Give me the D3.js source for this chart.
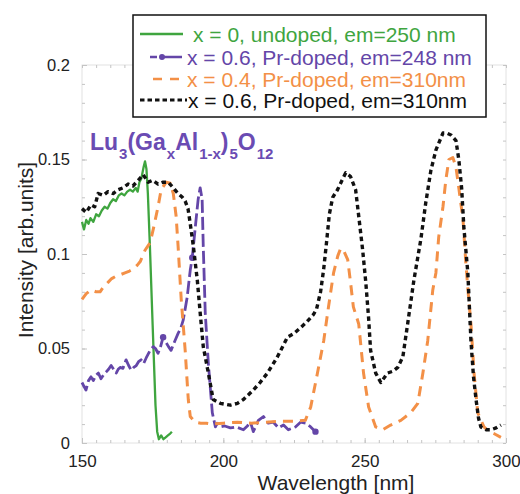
<!DOCTYPE html>
<html><head><meta charset="utf-8">
<script src="https://cdn.jsdelivr.net/npm/d3@7"></script>
<style>
html,body{margin:0;padding:0;background:#fff;}
svg{display:block;font-family:"Liberation Sans",Arial,Helvetica,sans-serif;}
</style></head>
<body>
<svg id="chart" width="520" height="494"></svg>
<script>
// ---------- data ----------
const greenWl = [150,150.7,151.5,152.3,153,154,155,156,157,158,159,160,161,162,163,164,165,166,167,168,169,169.7,170.3,171,171.8,172.3,172.8,173.3,174,175,176,176.6,177.2,178,178.8,179.6,180.4,181.2,181.8];
const greenI  = [0.117,0.113,0.118,0.116,0.119,0.117,0.121,0.120,0.123,0.125,0.124,0.127,0.129,0.128,0.131,0.132,0.131,0.133,0.134,0.133,0.135,0.133,0.138,0.140,0.146,0.149,0.145,0.132,0.105,0.062,0.020,0.006,0.002,0.004,0.002,0.003,0.004,0.005,0.006];

const purpleWl = [150,150.7,151.4,152.3,153.2,154,155,155.8,156.7,157.6,158.5,159.4,160.3,161.2,162.1,162.8,163.5,164.5,165.6,166.5,167.4,168.3,169.2,170,170.9,171.8,172.7,173.4,174.1,175.2,176,176.9,177.8,178.7,179.3,179.8,180.6,181.5,182.3,183,184,185,185.8,187.2,188.3,189,190,191.1,191.8,192.5,192.9,193.6,194.7,196.1,197.2,197.8,199,200.5,202.5,204.5,207.1,208.5,209.6,210.6,211.5,212.4,214.2,215.9,217.7,219.5,221.3,223,225.5,227.3,229.1,230.9,232.6];
const purpleI  = [0.032,0.030,0.028,0.033,0.035,0.033,0.036,0.037,0.034,0.036,0.0375,0.039,0.041,0.039,0.037,0.039,0.040,0.0395,0.044,0.041,0.0385,0.040,0.041,0.043,0.044,0.042,0.045,0.047,0.049,0.051,0.050,0.0475,0.051,0.056,0.055,0.053,0.051,0.049,0.052,0.0545,0.058,0.061,0.065,0.077,0.0915,0.098,0.113,0.129,0.135,0.129,0.104,0.069,0.042,0.016,0.0085,0.0105,0.0085,0.009,0.008,0.0085,0.007,0.009,0.011,0.006,0.009,0.012,0.014,0.0105,0.011,0.008,0.0095,0.007,0.0085,0.011,0.0105,0.0085,0.006];
const purpleMarkerWl = [178.7, 189, 232.6];

const orangeWl = [150,151.5,153.2,155,156.4,157.8,159.2,160.5,161.7,163.5,165.2,166.8,168.1,169.5,170.6,172.3,174.1,175.2,176.9,178,179.8,181.2,182.3,183.3,184,185.1,186.5,187.6,188.3,190,192,194,196,200,205,210,215,220,225,229,230.9,233.3,235.5,237.2,239,240.5,241.5,242.5,244,245,246,247.9,249.6,251.4,253.9,256.4,259.2,262.8,266.3,268.8,270.6,272.3,274.1,275.2,276.2,277.7,278.7,279.8,281.2,282.3,283.3,284.8,285.8,286.6,287.6,288.7,290,292.2,294,295.7,298.2];
const orangeI  = [0.076,0.079,0.081,0.080,0.080,0.083,0.085,0.087,0.088,0.089,0.090,0.091,0.092,0.094,0.096,0.102,0.106,0.113,0.125,0.134,0.138,0.1375,0.132,0.120,0.104,0.076,0.049,0.023,0.014,0.011,0.0105,0.0105,0.010,0.0105,0.011,0.0105,0.011,0.0115,0.0115,0.012,0.019,0.037,0.054,0.072,0.090,0.099,0.103,0.102,0.097,0.085,0.072,0.063,0.037,0.019,0.0085,0.007,0.0095,0.012,0.016,0.021,0.037,0.054,0.081,0.090,0.109,0.125,0.139,0.150,0.151,0.146,0.135,0.118,0.095,0.080,0.063,0.037,0.016,0.0085,0.006,0.005,0.003];

const blackWl = [150,151.5,153.2,154.5,155.7,157.5,159.2,161,162.8,164.5,166.3,168,169.9,171.6,173.4,175,176.9,178.7,180.5,182.3,184,185.5,186.5,187.5,188.3,189.4,190.8,191.8,192.9,194.7,196.4,198.9,202.5,205,207.1,210.6,213,215.6,219.1,222.7,225,227.3,229.5,231.9,233,234.4,235.5,236.5,237.5,238.7,240.4,242,243.3,245,246.8,247.9,249.3,250.4,251.4,252.1,253.9,255.7,258.1,260,261.7,263.5,265.2,267.4,269.9,271.6,273.4,275.2,277.7,279,280.5,282.3,283.3,284.3,285.1,286.5,287.6,288.5,289.4,290.3,291.1,293,294.7,296.5,298.2];
const blackI  = [0.124,0.122,0.126,0.125,0.132,0.131,0.133,0.132,0.134,0.135,0.137,0.136,0.139,0.142,0.138,0.139,0.137,0.138,0.138,0.135,0.132,0.130,0.128,0.124,0.116,0.104,0.086,0.069,0.051,0.037,0.023,0.021,0.020,0.021,0.023,0.028,0.032,0.037,0.0455,0.056,0.058,0.061,0.064,0.068,0.071,0.080,0.092,0.106,0.121,0.130,0.134,0.139,0.143,0.141,0.134,0.120,0.102,0.085,0.066,0.049,0.037,0.032,0.037,0.038,0.040,0.0455,0.063,0.086,0.108,0.127,0.144,0.155,0.164,0.164,0.163,0.160,0.150,0.135,0.114,0.090,0.054,0.035,0.023,0.013,0.0085,0.007,0.007,0.008,0.0095];

const legendLabels = ["x = 0, undoped, em=250 nm","x = 0.6, Pr-doped, em=248 nm","x = 0.4, Pr-doped, em=310nm","x = 0.6, Pr-doped, em=310nm"];
const xTicks = [150,200,250,300];
const yTicks = [0,0.05,0.1,0.15,0.2];
const yTickLabels = ["0","0.05","0.1","0.15","0.2"];
const xTitle = "Wavelength [nm]";
const yTitle = "Intensity [arb.units]";

// ---------- drawing ----------
const svg = d3.select("#chart");
const L=82, R=506, T=65, B=443;
const x = d3.scaleLinear().domain([150,300]).range([L,R]);
const y = d3.scaleLinear().domain([0,0.2]).range([B,T]);

const frameCol = "#e2e2e2";
svg.append("rect").attr("x",L).attr("y",T).attr("width",R-L).attr("height",B-T)
  .attr("fill","none").attr("stroke",frameCol).attr("stroke-width",1);

const minorX = d3.range(150,300.1,5), minorY = d3.range(0,0.2001,0.01);
function styleAx(g){ g.select(".domain").remove(); g.selectAll("line").attr("stroke","#c4c4c4"); }
svg.append("g").attr("transform",`translate(0,${B})`).call(d3.axisBottom(x).tickValues(minorX).tickSize(-3).tickFormat("")).call(styleAx);
svg.append("g").attr("transform",`translate(0,${T})`).call(d3.axisTop(x).tickValues(minorX).tickSize(-3).tickFormat("")).call(styleAx);
svg.append("g").attr("transform",`translate(${L},0)`).call(d3.axisLeft(y).tickValues(minorY).tickSize(-3).tickFormat("")).call(styleAx);
svg.append("g").attr("transform",`translate(${R},0)`).call(d3.axisRight(y).tickValues(minorY).tickSize(-3).tickFormat("")).call(styleAx);

const gx = svg.append("g").attr("transform",`translate(0,${B})`)
  .call(d3.axisBottom(x).tickValues(xTicks).tickSize(-5).tickFormat(d3.format("d")));
gx.select(".domain").remove();
gx.selectAll("line").attr("stroke","#c4c4c4");
gx.selectAll("text").attr("y",24).attr("dy",0).attr("font-size",17).attr("fill","#222")
  .attr("font-family","Liberation Sans, Arial, sans-serif");

const gy = svg.append("g").attr("transform",`translate(${L},0)`)
  .call(d3.axisLeft(y).tickValues(yTicks).tickSize(-5).tickPadding(12).tickFormat((d,i)=>yTickLabels[i]));
gy.select(".domain").remove();
gy.selectAll("line").attr("stroke","#c4c4c4");
gy.selectAll("text").attr("font-size",16.5).attr("fill","#222")
  .attr("font-family","Liberation Sans, Arial, sans-serif");

svg.append("text").attr("x",336).attr("y",490).attr("text-anchor","middle")
  .attr("font-size",21).attr("fill","#222").text(xTitle);
svg.append("text").attr("transform","translate(33,250) rotate(-90)").attr("text-anchor","middle")
  .attr("font-size",21).attr("fill","#222").text(yTitle);

const colors = {green:"#3fa53f", purple:"#6446a8", orange:"#f39047", black:"#111"};
const line = d3.line().x(d=>x(d[0])).y(d=>y(d[1]));
const zip = (a,b)=>a.map((v,i)=>[v,b[i]]);

svg.append("path").datum(zip(greenWl,greenI)).attr("d",line)
  .attr("fill","none").attr("stroke",colors.green).attr("stroke-width",2.3).attr("stroke-linejoin","round");

svg.append("path").datum(zip(purpleWl,purpleI)).attr("d",line)
  .attr("fill","none").attr("stroke",colors.purple).attr("stroke-width",2.8)
  .attr("stroke-dasharray","13,4").attr("stroke-linejoin","round");
svg.append("g").selectAll("circle").data(zip(purpleWl,purpleI).filter(d=>purpleMarkerWl.includes(d[0])))
  .join("circle").attr("cx",d=>x(d[0])).attr("cy",d=>y(d[1])).attr("r",3.2).attr("fill",colors.purple);

svg.append("path").datum(zip(orangeWl,orangeI)).attr("d",line)
  .attr("fill","none").attr("stroke",colors.orange).attr("stroke-width",3)
  .attr("stroke-dasharray","10,7").attr("stroke-linejoin","round");

svg.append("path").datum(zip(blackWl,blackI)).attr("d",line)
  .attr("fill","none").attr("stroke",colors.black).attr("stroke-width",3.4)
  .attr("stroke-dasharray","4.5,3.5").attr("stroke-linejoin","round");

const comp = svg.append("text").attr("x",90).attr("y",150).attr("fill","#6a4bb3")
  .attr("font-weight","bold").attr("font-size",23);
const parts = [["Lu",0],["3",1],["(Ga",0],["x",1],["Al",0],["1-x",1],[")",0],["5",1],["O",0],["12",1]];
let prevSub = false;
parts.forEach(([t,s])=>{
  const ts = comp.append("tspan").text(t);
  if(s){ ts.attr("font-size",15).attr("dy", prevSub?0:9).attr("dx",1); }
  else { ts.attr("dy", prevSub?-9:0); }
  prevSub = !!s;
});

const lg = svg.append("g");
lg.append("rect").attr("x",133).attr("y",15).attr("width",353).attr("height",102)
  .attr("fill","#fff").attr("stroke","#111").attr("stroke-width",1.5);
const rowsY = [34,57,79,100];
const legCols = [colors.green, colors.purple, colors.orange, colors.black];
lg.append("line").attr("x1",140).attr("x2",183).attr("y1",rowsY[0]).attr("y2",rowsY[0]).attr("stroke",legCols[0]).attr("stroke-width",2.5);
lg.append("line").attr("x1",150).attr("x2",182).attr("y1",rowsY[1]).attr("y2",rowsY[1]).attr("stroke",legCols[1]).attr("stroke-width",2.6).attr("stroke-dasharray","7,3,22");
lg.append("circle").attr("cx",162).attr("cy",rowsY[1]).attr("r",3).attr("fill",legCols[1]);
lg.append("line").attr("x1",153).attr("x2",182).attr("y1",rowsY[2]).attr("y2",rowsY[2]).attr("stroke",legCols[2]).attr("stroke-width",2.6).attr("stroke-dasharray","9,8");
lg.append("line").attr("x1",140).attr("x2",187).attr("y1",rowsY[3]).attr("y2",rowsY[3]).attr("stroke",legCols[3]).attr("stroke-width",3).attr("stroke-dasharray","4.5,3");
const textX = [193,187,187,188];
legendLabels.forEach((t,i)=>{
  lg.append("text").attr("x",textX[i]).attr("y",rowsY[i]+7.5).attr("font-size",21)
    .attr("fill",legCols[i]).text(t);
});
</script>
</body></html>
